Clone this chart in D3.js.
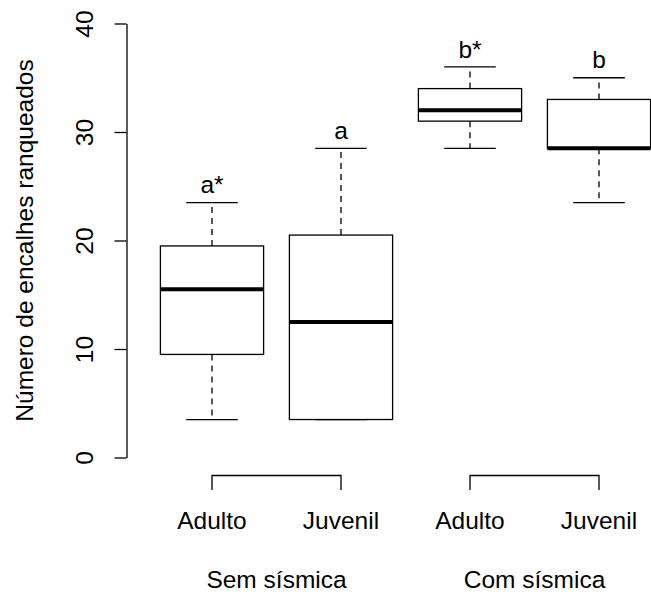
<!DOCTYPE html>
<html>
<head>
<meta charset="utf-8">
<script src="https://cdn.jsdelivr.net/npm/d3@7"></script>
<style>
  body { margin: 0; background: #fff; }
  text { font-family: "Liberation Sans", Arial, sans-serif; fill: #000; }
</style>
</head>
<body>
<svg id="chart" width="651" height="594"></svg>
<script>
"use strict";

// data
var boxNames = ["Adulto", "Juvenil", "Adulto", "Juvenil"];
var groupNames = ["Sem sísmica", "Com sísmica"];
var whiskerLow = [3.5, 3.5, 28.5, 23.5];
var lowerQ = [9.5, 3.5, 31, 28.5];
var medians = [15.5, 12.5, 32, 28.5];
var upperQ = [19.5, 20.5, 34, 33];
var whiskerHigh = [23.5, 28.5, 36, 35];
var letters = ["a*", "a", "b*", "b"];
var letterAt = [25, 30, 37.5, 36.5];
var yTicks = [0, 10, 20, 30, 40];

var fontSize = "24.5px";
var svg = d3.select("#chart");

var x = d3.scaleLinear().domain([0.5, 4.5]).range([147.5, 663.5]);
var y = d3.scaleLinear().domain([0, 40]).range([457.5, 23.5]);
var boxW = (x(2) - x(1)) * 0.8;
var capW = boxW / 2;

var boxes = boxNames.map(function (n, i) {
        return { pos: i + 1, name: n, lo: whiskerLow[i], q1: lowerQ[i], med: medians[i],
                q3: upperQ[i], hi: whiskerHigh[i], letter: letters[i], ly: letterAt[i] };
});

// y axis
var yAxis = svg.append("g")
        .attr("transform", "translate(126.5,0)")
        .call(d3.axisLeft(y).tickValues(yTicks).tickSize(12).tickSizeOuter(0).tickPadding(0));
yAxis.selectAll("path, line").attr("stroke", "#000").attr("stroke-width", 1.3);
yAxis.selectAll("text")
        .attr("x", 0).attr("y", 0).attr("dy", null)
        .attr("transform", "translate(-34,0) rotate(-90)")
        .style("text-anchor", "middle")
        .style("font-size", fontSize)
        .style("font-family", "Liberation Sans, Arial, sans-serif");

svg.append("text")
        .attr("transform", "translate(32.5," + y(20) + ") rotate(-90)")
        .attr("text-anchor", "middle")
        .style("font-size", fontSize)
        .text("Número de encalhes ranqueados");

// boxes
var g = svg.selectAll(".box").data(boxes).enter().append("g").attr("class", "box");

g.append("line") // upper whisker
        .attr("x1", function (d) { return x(d.pos); }).attr("x2", function (d) { return x(d.pos); })
        .attr("y1", function (d) { return y(d.q3); }).attr("y2", function (d) { return y(d.hi); })
        .attr("stroke", "#000").attr("stroke-width", 1.3).attr("stroke-dasharray", "6,5");
g.filter(function (d) { return d.lo < d.q1; }).append("line") // lower whisker
        .attr("x1", function (d) { return x(d.pos); }).attr("x2", function (d) { return x(d.pos); })
        .attr("y1", function (d) { return y(d.q1); }).attr("y2", function (d) { return y(d.lo); })
        .attr("stroke", "#000").attr("stroke-width", 1.3).attr("stroke-dasharray", "6,5");

["lo", "hi"].forEach(function (k) {
        g.append("line")
                .attr("x1", function (d) { return x(d.pos) - capW / 2; })
                .attr("x2", function (d) { return x(d.pos) + capW / 2; })
                .attr("y1", function (d) { return y(d[k]); })
                .attr("y2", function (d) { return y(d[k]); })
                .attr("stroke", "#000").attr("stroke-width", 1.3);
});

g.append("rect")
        .attr("x", function (d) { return x(d.pos) - boxW / 2; })
        .attr("y", function (d) { return y(d.q3); })
        .attr("width", boxW)
        .attr("height", function (d) { return y(d.q1) - y(d.q3); })
        .attr("fill", "#fff").attr("stroke", "#000").attr("stroke-width", 1.3);

g.append("line")
        .attr("x1", function (d) { return x(d.pos) - boxW / 2; })
        .attr("x2", function (d) { return x(d.pos) + boxW / 2; })
        .attr("y1", function (d) { return y(d.med); })
        .attr("y2", function (d) { return y(d.med); })
        .attr("stroke", "#000").attr("stroke-width", 4);

g.append("text")
        .attr("x", function (d) { return x(d.pos); })
        .attr("y", function (d) { return y(d.ly) + 7; })
        .attr("text-anchor", "middle")
        .style("font-size", fontSize)
        .text(function (d) { return d.letter; });

// category labels
g.append("text")
        .attr("x", function (d) { return x(d.pos); })
        .attr("y", 529)
        .attr("text-anchor", "middle")
        .style("font-size", fontSize)
        .text(function (d) { return d.name; });

// group brackets
groupNames.forEach(function (name, i) {
        var a = x(2 * i + 1), b = x(2 * i + 2);
        svg.append("path")
                .attr("d", "M" + a + ",490V475.5H" + b + "V490")
                .attr("fill", "none").attr("stroke", "#000").attr("stroke-width", 1.3);
        svg.append("text")
                .attr("x", (a + b) / 2)
                .attr("y", 588)
                .attr("text-anchor", "middle")
                .style("font-size", fontSize)
                .text(name);
});
</script>
</body>
</html>
